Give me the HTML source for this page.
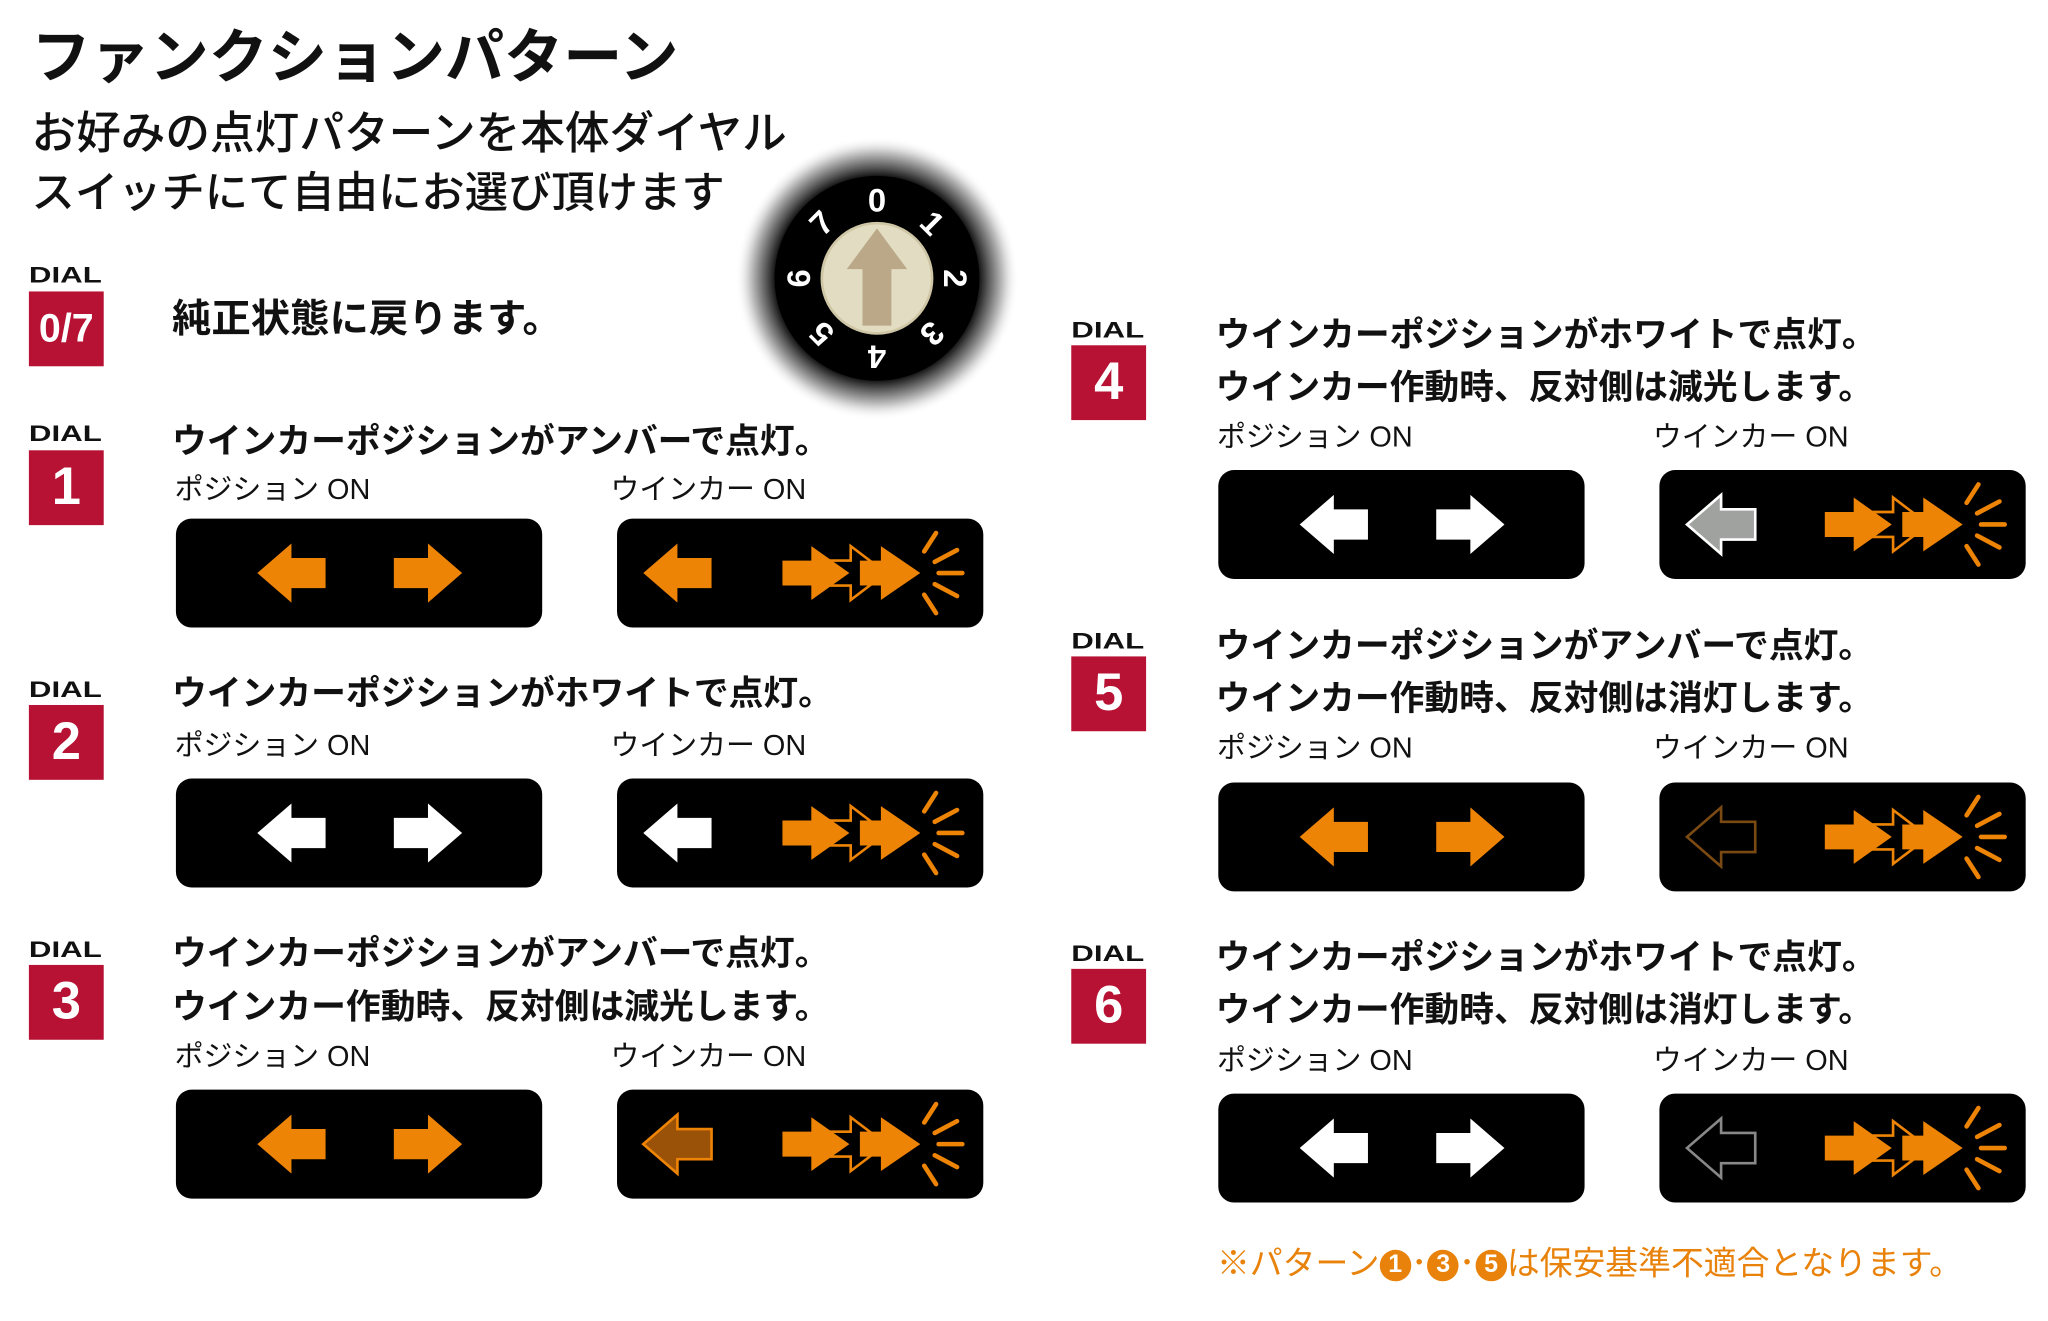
<!DOCTYPE html>
<html><head><meta charset="utf-8">
<style>
html,body{margin:0;padding:0;background:#fff;}
body{width:2048px;height:1321px;overflow:hidden;position:relative;}
#w{position:absolute;left:0;top:0;width:1560px;height:1006px;transform:scale(1.31282);transform-origin:0 0;}
.t{position:absolute;white-space:nowrap;line-height:1;color:#111;font-family:"Liberation Sans","Noto Sans CJK JP",sans-serif;}
.b{font-weight:bold;}
.dl{position:absolute;font:bold 17px "Liberation Sans",sans-serif;color:#111;letter-spacing:0px;line-height:1;transform:scaleX(1.4);transform-origin:0 0;}
.rb{position:absolute;width:57px;height:57px;background:#b71234;color:#fff;font:bold 40px "Liberation Sans",sans-serif;text-align:center;line-height:57px;}
svg.p{position:absolute;}
.c{display:inline-block;width:24px;height:24px;border-radius:50%;background:#e8820a;color:#fff;font:bold 19px "Liberation Sans",sans-serif;text-align:center;line-height:24px;vertical-align:2px;}
</style></head><body><div id="w">

<div class="t b" style="left:24px;top:21px;font-size:45px;">ファンクションパターン</div>
<div class="t" style="left:24px;top:85px;font-size:34px;font-weight:500;">お好みの点灯パターンを本体ダイヤル</div>
<div class="t" style="left:24px;top:130px;font-size:33px;font-weight:500;">スイッチにて自由にお選び頂けます</div>

<!-- dial -->
<svg class="p" style="left:558px;top:102px" width="220" height="220" viewBox="-110 -110 220 220">
<defs><radialGradient id="g"><stop offset="0.70" stop-color="#000"/><stop offset="0.78" stop-color="#555"/><stop offset="0.9" stop-color="#ccc"/><stop offset="1" stop-color="#fff" stop-opacity="0"/></radialGradient></defs>
<circle r="108" fill="url(#g)"/>
<circle r="78" fill="#000"/>
<circle r="42" fill="#e2dcc2" stroke="#cfc6a6" stroke-width="2"/>
<polygon points="0,-38 23,-7 11,-7 11,36 -11,36 -11,-7 -23,-7" fill="#bba888"/>
<g font-family="Liberation Sans" font-weight="bold" font-size="25" fill="#fff" text-anchor="middle">
<text transform="rotate(0) translate(0,-51)">0</text>
<text transform="rotate(45) translate(0,-51)">1</text>
<text transform="rotate(90) translate(0,-51)">2</text>
<text transform="rotate(135) translate(0,-51)">3</text>
<text transform="rotate(180) translate(0,-51)">4</text>
<text transform="rotate(225) translate(0,-51)">5</text>
<text transform="rotate(270) translate(0,-51)">6</text>
<text transform="rotate(315) translate(0,-51)">7</text>
</g></svg>

<!-- row 0/7 -->
<div class="dl" style="left:22px;top:201px">DIAL</div>
<div class="rb" style="left:22px;top:222px;font-size:30px">0/7</div>
<div class="t b" style="left:131px;top:229px;font-size:30px">純正状態に戻ります。</div>

<!-- row 1 -->
<div class="dl" style="left:22px;top:322px">DIAL</div>
<div class="rb" style="left:22px;top:343px">1</div>
<div class="t b" style="left:131px;top:323px;font-size:26.5px">ウインカーポジションがアンバーで点灯。</div>
<div class="t" style="left:133px;top:362px;font-size:22px">ポジション ON</div>
<div class="t" style="left:465px;top:362px;font-size:22px">ウインカー ON</div>

<!-- row 2 -->
<div class="dl" style="left:22px;top:517px">DIAL</div>
<div class="rb" style="left:22px;top:537px">2</div>
<div class="t b" style="left:131px;top:515px;font-size:26.5px">ウインカーポジションがホワイトで点灯。</div>
<div class="t" style="left:133px;top:557px;font-size:22px">ポジション ON</div>
<div class="t" style="left:465px;top:557px;font-size:22px">ウインカー ON</div>

<!-- row 3 -->
<div class="dl" style="left:22px;top:715px">DIAL</div>
<div class="rb" style="left:22px;top:735px">3</div>
<div class="t b" style="left:131px;top:713px;font-size:26.5px">ウインカーポジションがアンバーで点灯。</div>
<div class="t b" style="left:131px;top:754px;font-size:26.5px">ウインカー作動時、反対側は減光します。</div>
<div class="t" style="left:133px;top:794px;font-size:22px">ポジション ON</div>
<div class="t" style="left:465px;top:794px;font-size:22px">ウインカー ON</div>

<!-- row 4 -->
<div class="dl" style="left:816px;top:243px">DIAL</div>
<div class="rb" style="left:816px;top:263px">4</div>
<div class="t b" style="left:926px;top:242px;font-size:26.5px">ウインカーポジションがホワイトで点灯。</div>
<div class="t b" style="left:926px;top:282px;font-size:26.5px">ウインカー作動時、反対側は減光します。</div>
<div class="t" style="left:927px;top:322px;font-size:22px">ポジション ON</div>
<div class="t" style="left:1259px;top:322px;font-size:22px">ウインカー ON</div>

<!-- row 5 -->
<div class="dl" style="left:816px;top:480px">DIAL</div>
<div class="rb" style="left:816px;top:500px">5</div>
<div class="t b" style="left:926px;top:479px;font-size:26.5px">ウインカーポジションがアンバーで点灯。</div>
<div class="t b" style="left:926px;top:519px;font-size:26.5px">ウインカー作動時、反対側は消灯します。</div>
<div class="t" style="left:927px;top:559px;font-size:22px">ポジション ON</div>
<div class="t" style="left:1259px;top:559px;font-size:22px">ウインカー ON</div>

<!-- row 6 -->
<div class="dl" style="left:816px;top:718px">DIAL</div>
<div class="rb" style="left:816px;top:738px">6</div>
<div class="t b" style="left:926px;top:716px;font-size:26.5px">ウインカーポジションがホワイトで点灯。</div>
<div class="t b" style="left:926px;top:756px;font-size:26.5px">ウインカー作動時、反対側は消灯します。</div>
<div class="t" style="left:927px;top:797px;font-size:22px">ポジション ON</div>
<div class="t" style="left:1259px;top:797px;font-size:22px">ウインカー ON</div>

<div class="t" style="left:927px;top:951px;font-size:25px;color:#e8820a">※パターン<span class="c">1</span>･<span class="c">3</span>･<span class="c">5</span>は保安基準不適合となります。</div>

<!-- panels -->
<svg class="p" width="1560" height="1006" style="left:0;top:0">
<defs>
<symbol id="L" overflow="visible"><polygon points="0,41.5 26,19 26,30 52,30 52,53 26,53 26,64"/></symbol>
<symbol id="R" overflow="visible"><polygon points="52,41.5 26,19 26,30 0,30 0,53 26,53 26,64"/></symbol>
<symbol id="BL" overflow="visible">
<polygon points="150,32 178,32 178,21 205,41.5 178,62 178,51 150,51" fill="#000" stroke="#ee8405" stroke-width="2"/>
<polygon points="126,32 148,32 148,21 177,41.5 148,62 148,51 126,51" fill="#ee8405"/>
<polygon points="185,32 201,32 201,21 231,41.5 201,62 201,51 185,51" fill="#ee8405"/>
<g stroke="#ee8405" stroke-width="3.5" stroke-linecap="round">
<line x1="245" y1="41.5" x2="263" y2="41.5"/>
<line x1="242" y1="33" x2="259" y2="24"/>
<line x1="242" y1="50" x2="259" y2="59"/>
<line x1="234" y1="25" x2="243" y2="11"/>
<line x1="234" y1="58" x2="243" y2="72"/>
</g></symbol>
<symbol id="box" overflow="visible"><rect width="279" height="83" rx="12" fill="#000"/></symbol>
</defs>
<use href="#box" x="134" y="395"/><use href="#L" x="196" y="395" fill="#ee8405"/><use href="#R" x="300" y="395" fill="#ee8405"/>
<use href="#box" x="470" y="395"/><use href="#L" x="490" y="395" fill="#ee8405"/><use href="#BL" x="470" y="395"/>
<use href="#box" x="134" y="593"/><use href="#L" x="196" y="593" fill="#fff"/><use href="#R" x="300" y="593" fill="#fff"/>
<use href="#box" x="470" y="593"/><use href="#L" x="490" y="593" fill="#fff"/><use href="#BL" x="470" y="593"/>
<use href="#box" x="134" y="830"/><use href="#L" x="196" y="830" fill="#ee8405"/><use href="#R" x="300" y="830" fill="#ee8405"/>
<use href="#box" x="470" y="830"/><use href="#L" x="490" y="830" fill="#9a5208" stroke="#ee8405" stroke-width="2"/><use href="#BL" x="470" y="830"/>
<use href="#box" x="928" y="358"/><use href="#L" x="990" y="358" fill="#fff"/><use href="#R" x="1094" y="358" fill="#fff"/>
<use href="#box" x="1264" y="358"/><use href="#L" x="1285" y="358" fill="#a0a2a0" stroke="#fff" stroke-width="2"/><use href="#BL" x="1264" y="358"/>
<use href="#box" x="928" y="596"/><use href="#L" x="990" y="596" fill="#ee8405"/><use href="#R" x="1094" y="596" fill="#ee8405"/>
<use href="#box" x="1264" y="596"/><use href="#L" x="1285" y="596" fill="#000" stroke="#7a4a12" stroke-width="2"/><use href="#BL" x="1264" y="596"/>
<use href="#box" x="928" y="833"/><use href="#L" x="990" y="833" fill="#fff"/><use href="#R" x="1094" y="833" fill="#fff"/>
<use href="#box" x="1264" y="833"/><use href="#L" x="1285" y="833" fill="#000" stroke="#888" stroke-width="2"/><use href="#BL" x="1264" y="833"/>
</svg>
</div></body></html>
